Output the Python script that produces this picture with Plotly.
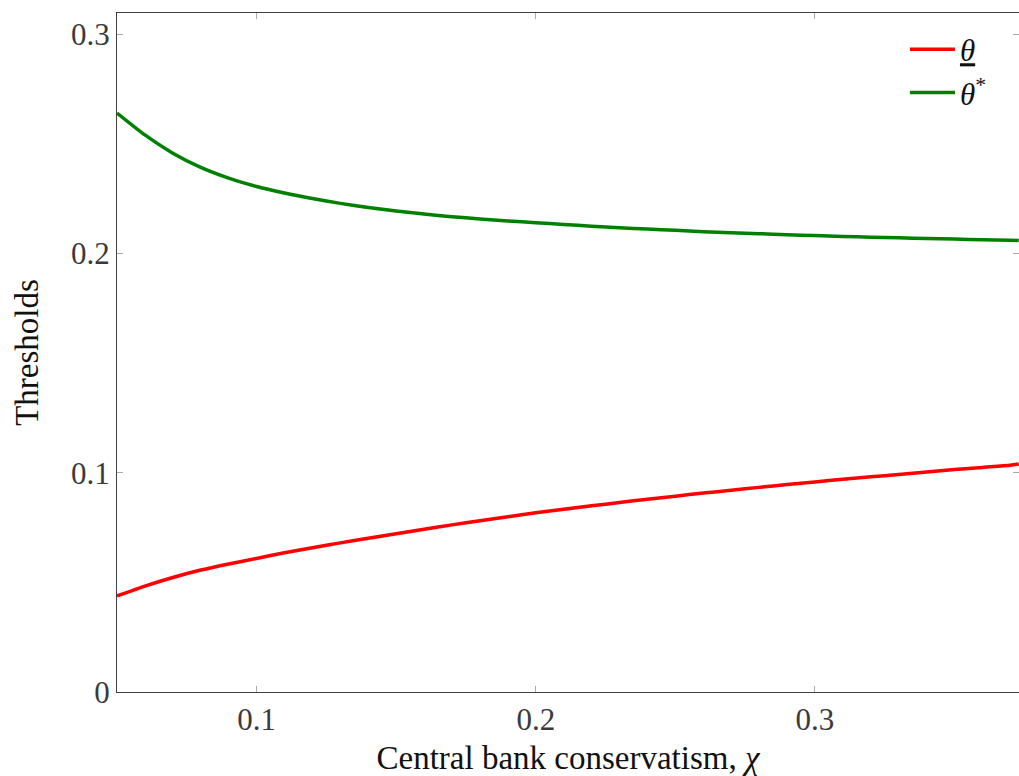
import plotly.graph_objects as go

chi = [0.05, 0.06, 0.07, 0.08, 0.09, 0.10, 0.11, 0.12, 0.13, 0.14, 0.15, 0.16, 0.17,
       0.18, 0.19, 0.20, 0.21, 0.22, 0.23, 0.24, 0.25, 0.26, 0.27, 0.28, 0.29, 0.30,
       0.31, 0.32, 0.33, 0.34, 0.35, 0.36, 0.37, 0.373]

theta_low = [0.0438, 0.0483, 0.0522, 0.0556, 0.0584, 0.0609, 0.0635, 0.0658, 0.0680,
             0.0701, 0.0722, 0.0742, 0.0762, 0.0781, 0.0799, 0.0817, 0.0833, 0.0849,
             0.0864, 0.0879, 0.0893, 0.0907, 0.0920, 0.0933, 0.0946, 0.0958, 0.0970,
             0.0981, 0.0992, 0.1003, 0.1014, 0.1024, 0.1034, 0.1040]

theta_star = [0.2640, 0.2540, 0.2457, 0.2392, 0.2343, 0.2305, 0.2275, 0.2250, 0.2228,
              0.2209, 0.2193, 0.2179, 0.2167, 0.2157, 0.2148, 0.2140, 0.2132, 0.2124,
              0.2117, 0.2111, 0.2105, 0.2099, 0.2094, 0.2090, 0.2085, 0.2081, 0.2077,
              0.2074, 0.2071, 0.2068, 0.2065, 0.2062, 0.2060, 0.2059]

x_ticks = [0.1, 0.2, 0.3]
y_ticks = [0, 0.1, 0.2, 0.3]
y_tick_labels = ["0", "0.1", "0.2", "0.3"]

FONT = "Liberation Serif"
TXT = "#3a3a3a"

fig = go.Figure()
fig.add_trace(go.Scatter(x=chi, y=theta_low, mode="lines",
                         line=dict(color="#ff0000", width=3.5, shape="spline", smoothing=0.6),
                         name="<u><i>θ</i></u>"))
fig.add_trace(go.Scatter(x=chi, y=theta_star, mode="lines",
                         line=dict(color="#008000", width=3.5, shape="spline", smoothing=0.6),
                         name="<i>θ</i><sup>*</sup>"))

axis_common = dict(
    showgrid=False, zeroline=False,
    showline=True, linecolor="#404040", linewidth=1.3,
    mirror="ticks", ticks="inside", ticklen=6, tickwidth=1, tickcolor="#aaaaaa",
    tickfont=dict(family=FONT, size=31, color=TXT),
)

fig.update_layout(
    width=1019, height=776,
    margin=dict(l=117, r=0, t=13, b=84),
    paper_bgcolor="white", plot_bgcolor="white",
    font=dict(family=FONT, size=30, color=TXT),
    xaxis=dict(range=[0.05, 0.3731], tickvals=x_ticks, ticktext=[str(v) for v in x_ticks],
               title=dict(text="Central bank conservatism, <i>χ</i>",
                          font=dict(family=FONT, size=33, color="#111111"), standoff=12),
               **axis_common),
    yaxis=dict(range=[0, 0.3096], tickvals=y_ticks, ticktext=y_tick_labels,
               title=dict(text="Thresholds", font=dict(family=FONT, size=33, color="#111111"),
                          standoff=22),
               **axis_common),
    legend=dict(x=0.97, xanchor="right", y=0.986, yanchor="top",
                bgcolor="rgba(255,255,255,0)", font=dict(family=FONT, size=31, color="#111111"),
                itemwidth=45, tracegroupgap=0),
    showlegend=True,
)

# remove the default 8px page margin so the figure sits at the window's top-left corner
fig.write_html(
    "out.html",
    config={"displayModeBar": False},
    post_script="document.body.style.margin='0';document.body.style.overflow='hidden';",
)
